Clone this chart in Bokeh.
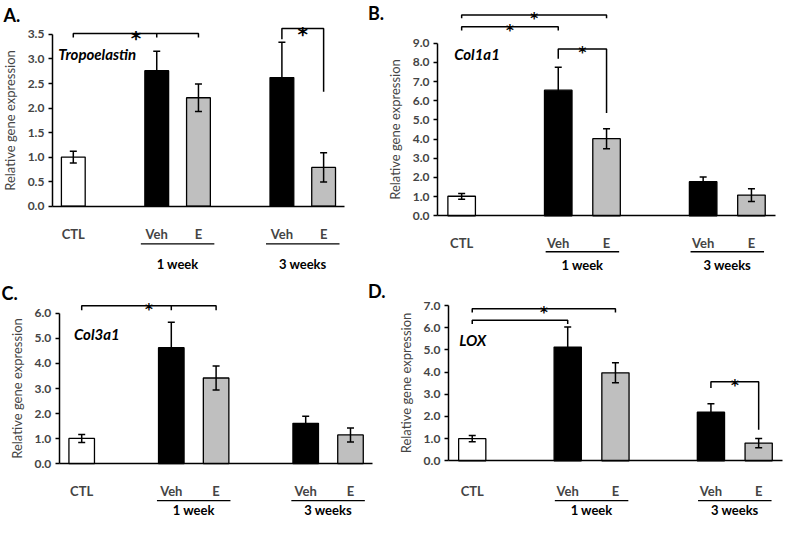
from bokeh.plotting import figure
from bokeh.models import Range1d, LinearAxis, FixedTicker, NumeralTickFormatter
from bokeh.layouts import column, row
from bokeh.embed import file_html
from bokeh.resources import INLINE
from bokeh.core.properties import value

# ---------------- data ----------------
categories = ["CTL", "Veh", "E", "Veh", "E"]
groups = ["1 week", "3 weeks"]
group_members = [(1, 2), (3, 4)]
bar_colors = ["#FFFFFF", "#000000", "#BFBFBF", "#000000", "#BFBFBF"]

tropo_mean = [1.00, 2.76, 2.21, 2.62, 0.79]
tropo_err = [0.12, 0.40, 0.28, 0.72, 0.30]

col1_mean = [1.02, 6.55, 4.02, 1.78, 1.08]
col1_err = [0.15, 1.20, 0.52, 0.25, 0.33]

col3_mean = [1.01, 4.63, 3.42, 1.61, 1.15]
col3_err = [0.16, 1.02, 0.48, 0.28, 0.28]

lox_mean = [1.00, 5.13, 3.97, 2.19, 0.80]
lox_err = [0.14, 0.90, 0.45, 0.38, 0.21]

# significance brackets: (from bar, to bar, level, left drop, right drop, middle tick bar, star)
tropo_sig = [(0, 2, 3.52, 3.44, 3.44, 1, True), (3, 4, 3.62, 3.40, 2.33, None, True)]
col1_sig = [(0, 2, 10.47, 10.30, 10.30, None, True), (0, 1, 9.86, 9.66, 9.66, None, True),
            (1, 2, 8.70, 8.19, 5.36, None, True)]
col3_sig = [(0, 2, 6.30, 6.12, 6.12, 1, True)]
lox_sig = [(0, 2, 6.86, 6.69, 6.69, None, True), (0, 1, 6.34, 6.17, 6.17, None, False),
           (3, 4, 3.57, 3.28, 1.40, None, True)]

# ---------------- layout ----------------
SX, SY = 0.98, 0.97
NSLOT = 7
slots = [0.5, 2.5, 3.5, 5.5, 6.5]   # Excel-like category slots (with blank slots)
BAR_W = 0.57
FONT = "Lato"
STAR_FONT = "DejaVu Sans"


def build(box, xa, xe, y0, ytop, ymax, ystep, means, errs, sig, texts,
          cat_standoff, underline_y, group_y, star_size, star_drop):
    bx0, by0, bx1, by1 = box
    W = round((bx1 - bx0) * SX)
    H = round((by1 - by0) * SY)
    pxa = (xa - bx0) * SX
    kx = (xe - xa) * SX / NSLOT
    py0 = (y0 - by0) * SY
    ky = (y0 - ytop) * SY / ymax

    def rx(x):
        return (x - xa) * SX / kx

    def ry(y):
        return (y0 - y) * SY / ky

    p = figure(width=W, height=H, output_backend="svg", toolbar_location=None,
               x_range=Range1d(-pxa / kx, (W - pxa) / kx),
               y_range=Range1d((py0 - H) / ky, py0 / ky),
               x_axis_type=None, y_axis_type=None, min_border=0,
               outline_line_color=None, background_fill_color="white",
               border_fill_color="white")

    nt = int(round(ymax / ystep))
    yax = LinearAxis(fixed_location=0, bounds=(0, ymax),
                     ticker=FixedTicker(ticks=[round(i * ystep, 3) for i in range(nt + 1)]),
                     formatter=NumeralTickFormatter(format="0.0"),
                     axis_label="Relative gene expression",
                     axis_label_text_font=FONT, axis_label_text_font_size="13px",
                     axis_label_text_font_style="normal", axis_label_standoff=7,
                     major_label_text_font=FONT, major_label_text_font_size="12px",
                     major_label_text_font_style="bold", major_label_standoff=4,
                     major_tick_out=4, major_tick_in=0, minor_tick_line_color=None,
                     axis_line_width=1.5, major_tick_line_width=1.5)
    p.add_layout(yax, "left")

    xax = LinearAxis(fixed_location=0, bounds=(0, NSLOT),
                     ticker=FixedTicker(ticks=slots),
                     major_label_overrides={s: c for s, c in zip(slots, categories)},
                     major_label_text_font=FONT, major_label_text_font_size="13px",
                     major_label_text_font_style="bold", major_label_standoff=cat_standoff,
                     major_tick_line_color=None, minor_tick_line_color=None,
                     axis_line_width=1.5)
    p.add_layout(xax, "below")

    # bars
    p.vbar(x=slots, top=means, width=BAR_W, bottom=0, fill_color=bar_colors,
           line_color="black", line_width=1.3)

    # error bars
    cap = 3.5 / kx
    lo = [m - e for m, e in zip(means, errs)]
    hi = [m + e for m, e in zip(means, errs)]
    p.segment(x0=slots, y0=lo, x1=slots, y1=hi, line_color="black", line_width=1.5)
    p.segment(x0=[s - cap for s in slots], y0=hi, x1=[s + cap for s in slots], y1=hi,
              line_color="black", line_width=1.5)
    p.segment(x0=[s - cap for s in slots], y0=lo, x1=[s + cap for s in slots], y1=lo,
              line_color="black", line_width=1.5)

    # significance brackets
    xs, ys = [], []
    sx_, sy_ = [], []
    for i, j, lev, dl, dr, mid, star in sig:
        xi, xj = slots[i], slots[j]
        xs.append([xi, xi, xj, xj])
        ys.append([dl, lev, lev, dr])
        if mid is not None:
            xs.append([slots[mid], slots[mid]])
            ys.append([lev, dl])
        if star:
            sx_.append((xi + xj) / 2)
            sy_.append(lev - star_drop / ky)
    p.multi_line(xs=xs, ys=ys, line_color="black", line_width=1.5)
    if sx_:
        p.text(x=sx_, y=sy_, text=["*"] * len(sx_), text_font=value(STAR_FONT),
               text_font_size=value(star_size), text_font_style="bold",
               text_align="center", text_baseline="alphabetic", text_color="#000000")

    # group underlines and labels
    half = 37.5 * SX / kx
    gx = [(slots[a] + slots[b]) / 2 for a, b in group_members]
    uy = ry(underline_y)
    p.segment(x0=[g - half for g in gx], y0=[uy] * 2, x1=[g + half for g in gx], y1=[uy] * 2,
              line_color="black", line_width=1.3)
    p.text(x=gx, y=[ry(group_y)] * 2, text=groups, text_font=value(FONT),
           text_font_size=value("13px"), text_font_style="bold",
           text_align="center", text_baseline="middle", text_color="#000000")

    # panel letters and gene names
    for tx, ty, t, size, style in texts:
        p.text(x=[rx(tx)], y=[ry(ty)], text=[t], text_font=value(FONT),
               text_font_size=value(size), text_font_style=style,
               text_align="left", text_baseline="middle", text_color="#000000")
    return p


pA = build((0, 0, 396, 285), 53, 351, 212, 35, 3.5, 0.5, tropo_mean, tropo_err, tropo_sig,
           [(3, 15, "A.", "18px", "bold"), (375, 13, "B.", "18px", "bold"),
            (59, 55, "Tropoelastin", "15px", "bold italic")],
           14, 251, 272, "20px", 5)
pB = build((396, 0, 800, 285), 446, 791, 222, 44, 9.0, 1.0, col1_mean, col1_err, col1_sig,
           [(463, 55, "Col1a1", "15px", "bold italic")],
           13, 259, 273, "15px", 4)
pC = build((0, 285, 400, 536), 60, 380, 478, 323, 6.0, 1.0, col3_mean, col3_err, col3_sig,
           [(1, 302, "C.", "18px", "bold"), (375, 300, "D.", "18px", "bold"),
            (75, 344, "Col3a1", "15px", "bold italic")],
           13, 516, 526, "15px", 4)
pD = build((400, 285, 800, 536), 457, 798, 475, 315, 7.0, 1.0, lox_mean, lox_err, lox_sig,
           [(468, 350, "LOX", "15px", "bold italic")],
           16, 516, 526, "15px", 4)

layout = column(row(pA, pB), row(pC, pD))
open("out.html", "w").write(file_html(layout, INLINE))
